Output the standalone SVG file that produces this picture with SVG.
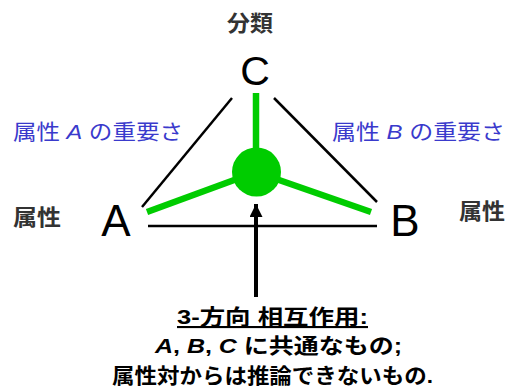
<svg xmlns="http://www.w3.org/2000/svg" width="510" height="387" viewBox="0 0 510 387">
<defs>
<style>
text{font-family:"Liberation Sans","Noto Sans CJK JP",sans-serif}
.vertex{font-size:44px;fill:#000;text-anchor:middle}
.gray{font-size:22px;font-weight:bold;fill:#333}
.blue{font-size:21px;fill:#3a3acc}
.note{font-size:21px;font-weight:bold;fill:#000}
.edge{stroke:#000;stroke-width:2.5;fill:none}
.green{stroke:#00cc00;stroke-width:6.5;fill:none}
</style>
<marker id="ah" viewBox="0 0 10 10" refX="10" refY="5" markerWidth="13" markerHeight="13" markerUnits="userSpaceOnUse" orient="auto">
<path d="M0,0 L10,5 L0,10 z" fill="#000"/>
</marker>
</defs>
<rect width="510" height="387" fill="#fff"/>
<g id="connectors">
<line class="edge" x1="232" y1="98" x2="142" y2="207"/>
<line class="edge" x1="274" y1="98" x2="377" y2="202"/>
<line class="edge" x1="148" y1="226" x2="377" y2="226"/>
<line class="green" x1="256" y1="93" x2="256" y2="172"/>
<line class="green" x1="147" y1="212" x2="256" y2="172"/>
<line class="green" x1="371" y1="212" x2="256" y2="172"/>
<line x1="256" y1="297" x2="256" y2="204" stroke="#000" stroke-width="4" marker-end="url(#ah)"/>
</g>
<g id="node-center"><circle cx="256.5" cy="172" r="24.5" fill="#00cc00"/></g>
<g id="node-C">
<text class="gray" x="227" y="31" textLength="46" lengthAdjust="spacingAndGlyphs">分類</text>
<text class="vertex" x="255" y="85" style="font-size:41px">C</text>
</g>
<g id="node-A">
<text class="vertex" x="116" y="236">A</text>
<text class="gray" x="13" y="225" textLength="48" lengthAdjust="spacingAndGlyphs">属性</text>
</g>
<g id="node-B">
<text class="vertex" x="405" y="236">B</text>
<text class="gray" x="459" y="219" textLength="46" lengthAdjust="spacingAndGlyphs">属性</text>
</g>
<g id="label-A"><text class="blue" x="13" y="139" textLength="170" lengthAdjust="spacingAndGlyphs">属性  <tspan font-style="italic">A</tspan>  の重要さ</text></g>
<g id="label-B"><text class="blue" x="332" y="139" textLength="173" lengthAdjust="spacingAndGlyphs">属性  <tspan font-style="italic">B</tspan>  の重要さ</text></g>
<g id="note">
<text class="note" x="177" y="324" text-decoration="underline" textLength="191" lengthAdjust="spacingAndGlyphs">3-方向  相互作用:</text>
<text class="note" x="155" y="353" textLength="247" lengthAdjust="spacingAndGlyphs"><tspan font-style="italic">A</tspan>, <tspan font-style="italic">B</tspan>, <tspan font-style="italic">C</tspan> に共通なもの;</text>
<text class="note" x="112" y="383" textLength="321" lengthAdjust="spacingAndGlyphs">属性対からは推論できないもの.</text>
</g>
</svg>
